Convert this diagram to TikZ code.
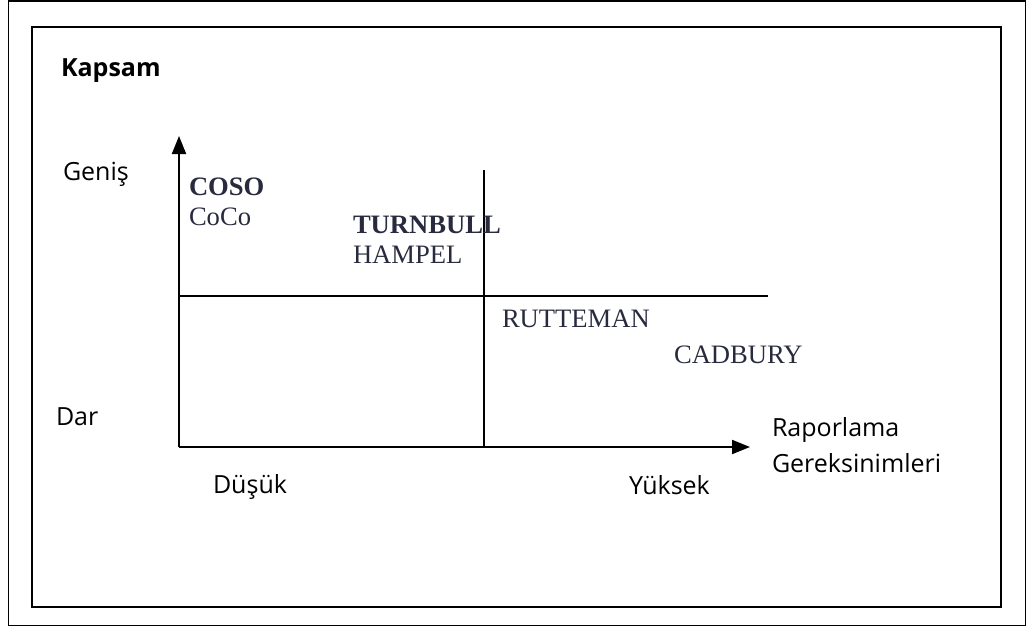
\documentclass[tikz,border=0pt]{standalone}
\usepackage{fontspec}
\setmainfont{Open Sans}
\newfontfamily\lblfont{Liberation Serif}
\usetikzlibrary{arrows.meta}
\definecolor{lblcolor}{RGB}{40,42,62}

\begin{document}
\begin{tikzpicture}[x=0.5pt,y=-0.5pt,line width=1pt,
  axislabel/.style={font=\fontsize{12.5pt}{18pt}\selectfont,anchor=base west,inner sep=0pt,align=left},
  framework/.style={font=\lblfont\fontsize{13.3pt}{15pt}\selectfont,text=lblcolor,anchor=base west,inner sep=0pt},
  axis/.style={-{Triangle[length=9pt,width=7pt]}}]
  \useasboundingbox (0,0) rectangle (1027,627);
  % frames
  \draw[line width=0.6pt] (8.5,1) rectangle (1025.5,625.5);
  \draw[line width=1.3pt] (32,27) rectangle (1001,607);

  \coordinate (o) at (179,447);
  \coordinate (ytip) at (179,136);
  \coordinate (xtip) at (750,447);
  \coordinate (vtop) at (484,170);
  \coordinate (vbot) at (484,447);
  \coordinate (hleft) at (179,296);
  \coordinate (hright) at (768,296);

  % axes and quadrant lines
  \draw[axis] (o) -- (ytip);
  \draw[axis] (o) -- (xtip);
  \draw (vtop) -- (vbot);
  \draw (hleft) -- (hright);

  % axis labels
  \node[axislabel,font=\bfseries\fontsize{12.5pt}{18pt}\selectfont] (kapsam) at (60,76) {Kapsam};
  \node[axislabel] (genis) at (62,180) {Geniş};
  \node[axislabel] (dar) at (55,425) {Dar};
  \node[axislabel] (dusuk) at (212,493) {Düşük};
  \node[axislabel] (yuksek) at (628,494) {Yüksek};
  \node[axislabel] (raporlama) at (771,472) {Raporlama\\Gereksinimleri};

  % frameworks
  \node[framework,font=\lblfont\bfseries\fontsize{13.3pt}{15pt}\selectfont] (coso) at (188,195) {COSO};
  \node[framework] (coco) at (188,225) {CoCo};
  \node[framework,font=\lblfont\bfseries\fontsize{13.3pt}{15pt}\selectfont] (turnbull) at (352,233) {TURNBULL};
  \node[framework] (hampel) at (352,263) {HAMPEL};
  \node[framework] (rutteman) at (501,327) {RUTTEMAN};
  \node[framework] (cadbury) at (673,363) {CADBURY};
\end{tikzpicture}
\end{document}
